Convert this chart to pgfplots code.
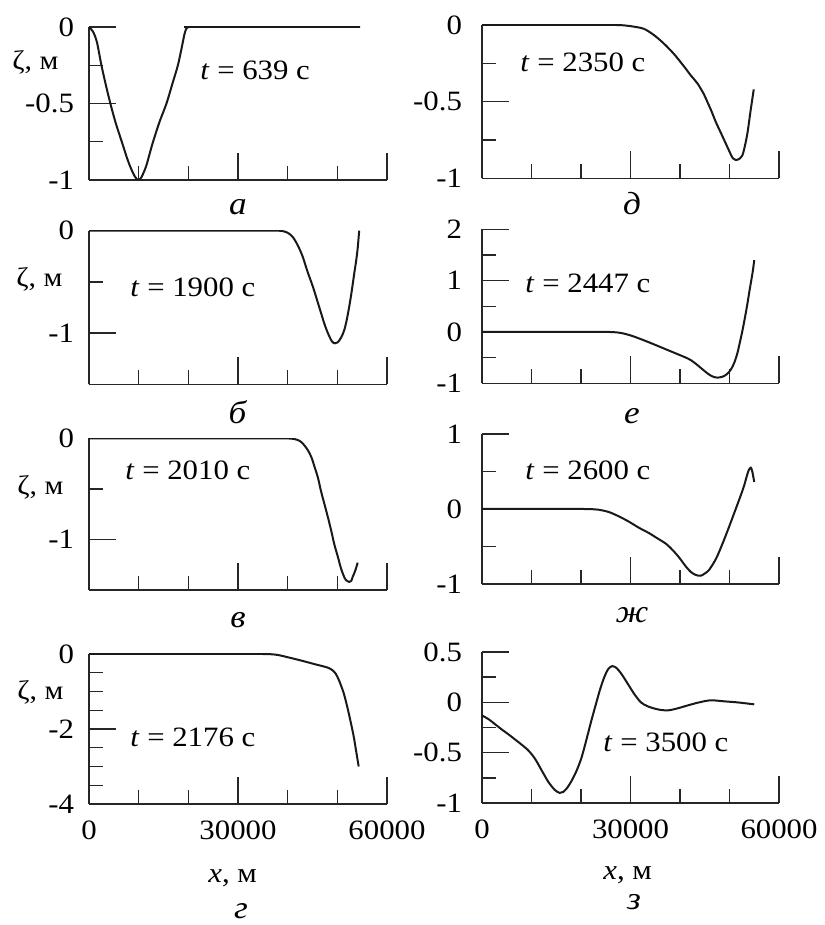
\documentclass[border=0pt]{standalone}
\usepackage{pgfplots}
\pgfplotsset{compat=1.18}
\usepackage{fontspec}
\setmainfont{Liberation Serif}[FakeStretch=1.1]
\newcommand\lbl{\fontsize{14pt}{16pt}\selectfont}
\newcommand\zl{\fontsize{13.5pt}{15pt}\selectfont}
\newcommand\pl{\fontsize{16pt}{18pt}\selectfont}
\pgfplotsset{
 panel/.style={
  scale only axis, width=149pt, anchor=south west,
  axis x line*=bottom, axis y line*=left,
  axis line style={-, line width=0.7pt, black!85},
  xmin=0, xmax=60000, scaled x ticks=false,
  xtick={0,30000,60000}, minor xtick={10000,20000,40000,50000},
  xticklabels={},
  tick align=inside, major tick length=13.5pt, minor tick length=7pt,
  tick style={black!85, line width=0.7pt},
  ticklabel style={font=\lbl},
  yticklabel style={xshift=-4pt},
  xticklabel style={yshift=-5pt},
 },
 curve/.style={black!90, line width=1pt, smooth, tension=0.5, no markers},
}
\begin{document}
\begin{tikzpicture}
\useasboundingbox (0,0) rectangle (412pt,462.5pt);
% a
\begin{axis}[panel, at={(44.5pt,372.5pt)}, height=76.5pt, ymin=-1, ymax=0,
  ytick={-1,-0.5,0}, yticklabels={-1,-0.5,0}, minor ytick={-0.75,-0.25}]
\addplot[curve] coordinates {(0,0) (800,-0.03) (1600,-0.1) (2500,-0.25) (3400,-0.38) (4300,-0.5) (5400,-0.63) (6600,-0.75) (7800,-0.87) (8800,-0.95) (9500,-0.99) (10000,-1) (10600,-0.98) (11500,-0.91) (12200,-0.83) (12900,-0.75) (14200,-0.62) (15600,-0.5) (16800,-0.37) (17900,-0.25) (18700,-0.13) (19200,-0.05) (19600,-0.01) (20000,0) (20500,0) (21500,0) (54600,0)};
\end{axis}
% b
\begin{axis}[panel, at={(44.5pt,270.35pt)}, height=76.8pt, ymin=-1.5, ymax=0,
  ytick={-1,0}, yticklabels={-1,0}, minor ytick={-0.5}]
\addplot[curve] coordinates {(0,0) (36500,0) (37800,0) (38900,-0.003) (40000,-0.02) (41000,-0.06) (42000,-0.14) (43000,-0.25) (44000,-0.4) (45100,-0.55) (46000,-0.69) (46700,-0.8) (47400,-0.91) (48100,-1.0) (48900,-1.08) (49500,-1.1) (50100,-1.09) (50800,-1.04) (51400,-0.97) (51900,-0.87) (52400,-0.74) (52900,-0.59) (53400,-0.42) (53800,-0.29) (54100,-0.17) (54400,0)};
\end{axis}
% v
\begin{axis}[panel, at={(44.5pt,167.5pt)}, height=75.85pt, ymin=-1.5, ymax=0,
  ytick={-1,0}, yticklabels={-1,0}, minor ytick={-0.5}]
\addplot[curve] coordinates {(0,0) (37000,0) (39000,0) (40300,-0.002) (41400,-0.008) (42400,-0.025) (43200,-0.06) (44100,-0.12) (44800,-0.19) (45400,-0.28) (46100,-0.39) (46700,-0.52) (47400,-0.65) (48100,-0.78) (48800,-0.92) (49400,-1.05) (50100,-1.17) (50700,-1.28) (51200,-1.35) (51700,-1.40) (52400,-1.42) (52800,-1.41) (53100,-1.37) (53600,-1.31) (54100,-1.23)};
\end{axis}
% g
\begin{axis}[panel, at={(44.5pt,60.5pt)}, height=75pt, ymin=-4, ymax=0,
  ytick={-4,-2,0}, yticklabels={-4,-2,0}, minor ytick={-3.5,-3,-2.5,-1.5,-1,-0.5},
  xticklabels={0,30000,60000}]
\addplot[curve] coordinates {(0,0) (33000,0) (35000,0) (36500,-0.005) (38000,-0.025) (39500,-0.07) (42300,-0.16) (45700,-0.28) (48000,-0.36) (49000,-0.43) (49700,-0.53) (50300,-0.69) (50800,-0.86) (51300,-1.05) (51800,-1.3) (52300,-1.58) (52800,-1.88) (53300,-2.2) (53800,-2.6) (54300,-3.0)};
\end{axis}
% d
\begin{axis}[panel, width=148.5pt, at={(241pt,373.35pt)}, height=76.65pt, ymin=-1, ymax=0,
  ytick={-1,-0.5,0}, yticklabels={-1,-0.5,0}, minor ytick={-0.75,-0.25},
  yticklabel style={xshift=-2.5pt}]
\addplot[curve] coordinates {(0,0) (25000,0) (27000,0) (28500,-0.002) (30500,-0.01) (32700,-0.025) (34700,-0.065) (36700,-0.12) (38800,-0.19) (40800,-0.27) (42200,-0.33) (43500,-0.38) (44800,-0.45) (45500,-0.5) (46200,-0.55) (47200,-0.63) (48200,-0.70) (49200,-0.77) (50200,-0.84) (50700,-0.87) (51200,-0.88) (51900,-0.875) (52600,-0.85) (53100,-0.79) (53600,-0.71) (54000,-0.62) (54300,-0.55) (54900,-0.42)};
\end{axis}
% e
\begin{axis}[panel, width=148.5pt, at={(241pt,270.85pt)}, height=77pt, ymin=-1, ymax=2,
  ytick={-1,0,1,2}, yticklabels={-1,0,1,2}, minor ytick={-0.5,0.5,1.5},
  yticklabel style={xshift=-2.5pt}]
\addplot[curve] coordinates {(0,0) (23000,0) (25000,0) (26500,-0.003) (28100,-0.02) (30100,-0.07) (32100,-0.14) (34200,-0.22) (36200,-0.30) (38200,-0.38) (40200,-0.46) (41200,-0.50) (42200,-0.55) (43200,-0.62) (44200,-0.70) (45200,-0.78) (46200,-0.85) (46900,-0.88) (47600,-0.89) (48300,-0.88) (48900,-0.86) (49600,-0.81) (50300,-0.73) (51000,-0.59) (51600,-0.41) (52100,-0.2) (52600,0.02) (53100,0.27) (53600,0.54) (54000,0.78) (54300,0.95) (54700,1.18) (55000,1.40)};
\end{axis}
% zh
\begin{axis}[panel, width=148.5pt, at={(241pt,170.5pt)}, height=75pt, ymin=-1, ymax=1,
  ytick={-1,0,1}, yticklabels={-1,0,1}, minor ytick={-0.5,0.5},
  yticklabel style={xshift=-2.5pt}]
\addplot[curve] coordinates {(0,0) (18500,0) (20500,0) (22000,-0.002) (23600,-0.01) (25600,-0.04) (27700,-0.1) (29700,-0.17) (31700,-0.25) (33700,-0.32) (35400,-0.39) (37100,-0.46) (38100,-0.52) (39100,-0.59) (40100,-0.67) (41100,-0.76) (42200,-0.84) (43200,-0.88) (44200,-0.89) (45000,-0.86) (45900,-0.81) (47300,-0.66) (48600,-0.46) (49900,-0.24) (51200,-0.01) (52100,0.15) (52900,0.30) (53500,0.44) (53900,0.52) (54300,0.55) (54600,0.50) (55000,0.36)};
\end{axis}
% z
\begin{axis}[panel, width=148.5pt, at={(241pt,61pt)}, height=75.5pt, ymin=-1, ymax=0.5,
  ytick={-1,-0.5,0,0.5}, yticklabels={-1,-0.5,0,0.5}, minor ytick={-0.75,-0.25,0.25},
  yticklabel style={xshift=-2.5pt}, xticklabels={0,30000,60000}]
\addplot[curve] coordinates {(0,-0.13) (1400,-0.17) (2700,-0.22) (4000,-0.27) (5400,-0.32) (6700,-0.37) (8000,-0.42) (9400,-0.48) (10700,-0.56) (12100,-0.68) (13400,-0.79) (14700,-0.87) (15700,-0.90) (16400,-0.89) (17200,-0.85) (18100,-0.78) (19100,-0.68) (20100,-0.55) (21100,-0.37) (22100,-0.18) (23000,-0.02) (23800,0.12) (24700,0.25) (25500,0.33) (26300,0.36) (27200,0.34) (28200,0.28) (29500,0.18) (30800,0.08) (32100,0.0) (33500,-0.04) (35500,-0.07) (37500,-0.08) (39500,-0.06) (41600,-0.03) (43900,0.0) (46200,0.02) (48900,0.01) (51500,0.0) (53300,-0.01) (55000,-0.02)};
\end{axis}
% y-axis labels
\node[anchor=base west, font=\zl, inner sep=0pt] at (6pt,427.5pt) {ζ, м};
\node[anchor=base west, font=\zl, inner sep=0pt] at (8pt,319pt) {ζ, м};
\node[anchor=base west, font=\zl, inner sep=0pt] at (8.5pt,215pt) {ζ, м};
\node[anchor=base west, font=\zl, inner sep=0pt] at (8.5pt,112.5pt) {ζ, м};
% time labels
\node[anchor=base west, font=\lbl, inner sep=0pt] at (100pt,422.5pt) {\textit{t} = 639 с};
\node[anchor=base west, font=\lbl, inner sep=0pt] at (65pt,314pt) {\textit{t} = 1900 с};
\node[anchor=base west, font=\lbl, inner sep=0pt] at (62.5pt,222.5pt) {\textit{t} = 2010 с};
\node[anchor=base west, font=\lbl, inner sep=0pt] at (65pt,89pt) {\textit{t} = 2176 с};
\node[anchor=base west, font=\lbl, inner sep=0pt] at (260pt,426.5pt) {\textit{t} = 2350 с};
\node[anchor=base west, font=\lbl, inner sep=0pt] at (262.5pt,316pt) {\textit{t} = 2447 с};
\node[anchor=base west, font=\lbl, inner sep=0pt] at (262.5pt,222.5pt) {\textit{t} = 2600 с};
\node[anchor=base west, font=\lbl, inner sep=0pt] at (301.5pt,86.5pt) {\textit{t} = 3500 с};
% x labels
\node[anchor=base west, font=\lbl, inner sep=0pt] at (104pt,21pt) {\textit{x}, м};
\node[anchor=base west, font=\lbl, inner sep=0pt] at (301.5pt,22.5pt) {\textit{x}, м};
% panel letters
\node[anchor=base, font=\pl, inner sep=0pt] at (119pt,355pt) {\textit{а}};
\node[anchor=base, font=\pl, inner sep=0pt] at (119pt,250.5pt) {\textit{б}};
\node[anchor=base, font=\pl, inner sep=0pt] at (119pt,148.5pt) {\textit{в}};
\node[anchor=base, font=\pl, inner sep=0pt] at (120.5pt,3pt) {\textit{г}};
\node[anchor=base, font=\pl, inner sep=0pt] at (316pt,355pt) {\textit{д}};
\node[anchor=base, font=\pl, inner sep=0pt] at (316pt,250.5pt) {\textit{е}};
\node[anchor=base, font=\pl, inner sep=0pt] at (316pt,151pt) {\textit{ж}};
\node[anchor=base, font=\pl, inner sep=0pt] at (317pt,8pt) {\textit{з}};
\end{tikzpicture}
\end{document}
